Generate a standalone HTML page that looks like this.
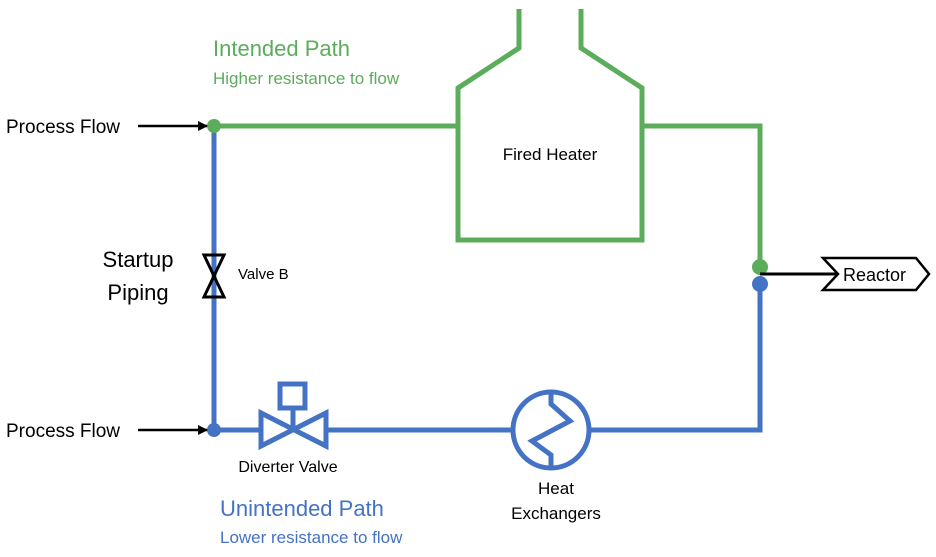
<!DOCTYPE html>
<html><head><style>
body{margin:0;background:#fff}
svg text{font-family:"Liberation Sans",sans-serif}
</style></head><body>
<svg width="936" height="552" viewBox="0 0 936 552" xmlns="http://www.w3.org/2000/svg">
<defs><marker id="ar" markerWidth="10" markerHeight="10" refX="9" refY="5" orient="auto" markerUnits="userSpaceOnUse"><path d="M0,0 L10,5 L0,10 Z" fill="#000"/></marker></defs>
<g fill="none" stroke="#5bac5b" stroke-width="5">
<polyline points="214,126 458,126"/>
<polyline points="519,9 519,48 458,88 458,240 642,240 642,88 581,48 581,9"/>
<polyline points="642,126 760,126 760,267"/>
</g>
<g fill="none" stroke="#4472c4" stroke-width="5">
<polyline points="214,126 214,430 260,430"/>
<polyline points="327,430 513,430"/>
<polyline points="589,430 760,430 760,284"/>
<polygon points="261,413 261,446 326,413 326,446"/>
<line x1="293" y1="408" x2="293" y2="430"/>
<rect x="280" y="384" width="25" height="24"/>
<circle cx="551" cy="430" r="38"/>
<polyline points="551,392 551,404 570,421 532,441 551,455 551,468"/>
</g>
<circle cx="214" cy="126" r="7" fill="#5bac5b"/>
<circle cx="214" cy="430" r="7" fill="#4472c4"/>
<circle cx="760" cy="267" r="8" fill="#5bac5b"/>
<circle cx="760" cy="284" r="8" fill="#4472c4"/>
<polygon points="204,255 224,255 204,297 224,297" fill="none" stroke="#000" stroke-width="3"/>
<line x1="138" y1="126" x2="207" y2="126" stroke="#000" stroke-width="2.5" marker-end="url(#ar)"/>
<line x1="138" y1="430" x2="207" y2="430" stroke="#000" stroke-width="2.5" marker-end="url(#ar)"/>
<line x1="760" y1="274" x2="838" y2="274" stroke="#000" stroke-width="3"/>
<polygon points="823,258 916,258 929,274 916,290 823,290 838,274" fill="#fff" stroke="#000" stroke-width="2.5"/>
<text x="843" y="281" font-size="18" fill="#000">Reactor</text>
<text x="6" y="133" font-size="19" fill="#000">Process Flow</text>
<text x="6" y="437" font-size="19" fill="#000">Process Flow</text>
<text x="138" y="267" font-size="22" text-anchor="middle" fill="#000">Startup</text>
<text x="138" y="300" font-size="22" text-anchor="middle" fill="#000">Piping</text>
<text x="238" y="279" font-size="15" fill="#000">Valve B</text>
<text x="550" y="160" font-size="17" text-anchor="middle" fill="#000">Fired Heater</text>
<text x="213" y="56" font-size="22" fill="#5bac5b">Intended Path</text>
<text x="213" y="84" font-size="17" fill="#5bac5b">Higher resistance to flow</text>
<text x="288" y="472" font-size="16" text-anchor="middle" fill="#000">Diverter Valve</text>
<text x="220" y="516" font-size="22" fill="#4472c4">Unintended Path</text>
<text x="220" y="543" font-size="17" fill="#4472c4">Lower resistance to flow</text>
<text x="556" y="494" font-size="17" text-anchor="middle" fill="#000">Heat</text>
<text x="556" y="519" font-size="17" text-anchor="middle" fill="#000">Exchangers</text>
</svg>
</body></html>
